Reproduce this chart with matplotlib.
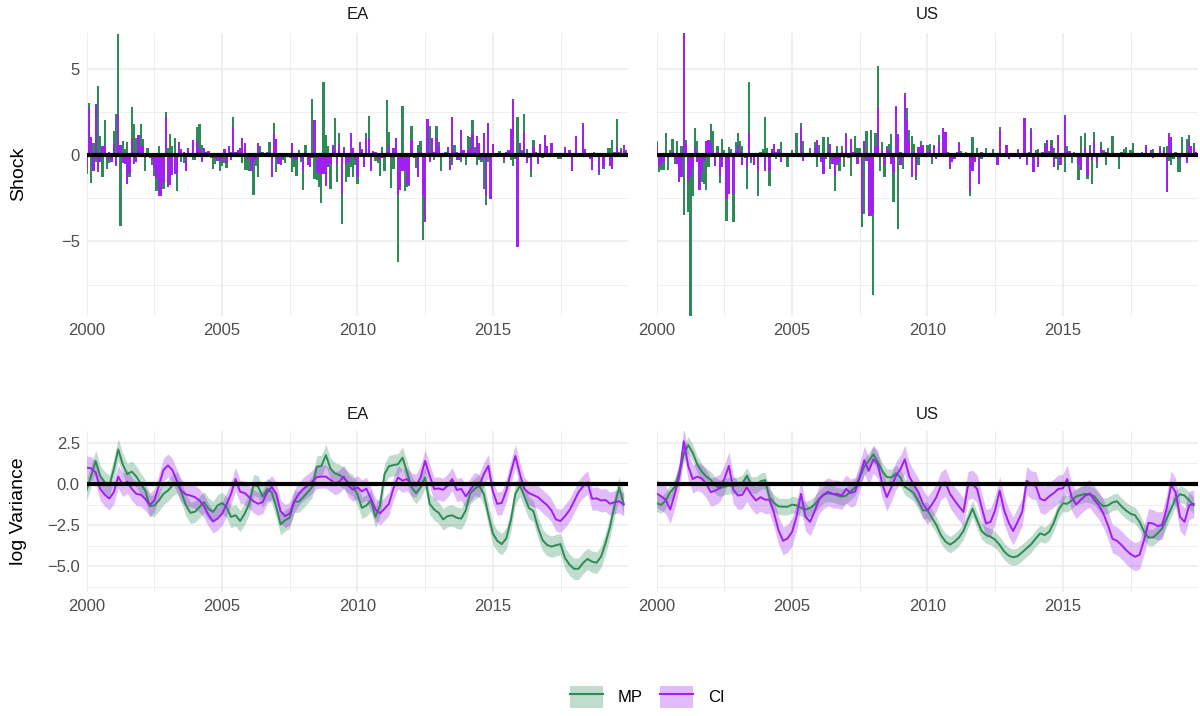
import matplotlib
matplotlib.use("Agg")
import matplotlib.pyplot as plt
from matplotlib.patches import Patch
from matplotlib.lines import Line2D
from matplotlib.legend_handler import HandlerTuple
import numpy as np
import pandas as pd

plt.rcParams['font.family'] = ['Liberation Sans', 'DejaVu Sans']

# monthly shocks 2000-01 .. 2019-12
ea_mp_shock = [
    -1.1, 3.0, -1.6, 0.7, -0.4, 4.0, 1.1, -1.3, 2.0, -0.8, -0.45, -0.3,
    1.4, 2.4, 7.0, -4.1, 0.8, 0.35, 0.75, -1.3, 2.8, 1.8, 1.0, 0.5,
    1.8, 0.9, -0.9, 0.4, -0.2, -0.55, -1.2, -2.1, 0.5, -2.3, -1.95, 2.5,
    0.4, 1.2, 0.5, 1.0, -2.1, 0.7, -0.4, -0.45, -0.3, 0.1, 0.1, -0.3,
    -0.3, 1.6, 1.8, 0.6, 0.2, 0.05, -0.1, -0.2, -0.8, -0.5, -0.1, -0.9,
    -0.65, -0.45, -0.75, 0.1, 0.2, 2.2, 0.1, 0.2, 0.1, -0.45, -0.85, -0.85,
    -0.9, -0.5, -2.3, -0.65, -1.25, 0.5, 0.2, 0.1, 0.2, 0.75, -0.4, 1.85,
    -1.0, -0.4, 0.1, -0.3, -0.45, -0.1, -0.2, -1.0, -0.7, -1.2, 0.3, -0.4,
    -2.0, 0.6, -0.3, -0.3, 3.25, -1.4, -1.45, -1.85, -2.8, 4.25, 1.15, 0.5,
    -1.95, 0.55, 2.15, -1.55, 1.25, -4.0, 0.45, -1.55, -1.25, -0.7, -1.3, -0.6,
    -1.7, 0.5, 0.35, 0.1, 1.3, 2.25, -0.2, 0.1, -0.35, -0.45, -1.2, 0.45,
    -0.95, 3.2, 1.35, -1.9, -0.8, 0.3, -6.2, -1.0, 2.85, -2.1, -1.85, -1.8,
    1.7, 0.1, -0.75, 0.6, 0.8, -4.9, -3.8, 1.0, 1.7, 0.6, -0.3, 1.65,
    0.75, -0.95, 0.1, 0.2, 0.2, -0.3, -0.6, 0.6, 0.2, -0.2, -0.4, 0.2,
    -0.6, 1.1, 1.05, 2.05, 0.45, -0.6, -0.3, -0.4, -1.95, -2.9, -0.4, -0.3,
    0.1, 0.1, -0.1, 0.25, 0.1, -0.45, 0.1, 0.1, -0.3, -0.65, -0.25, 2.2,
    0.3, 0.3, 2.4, 0.35, -0.2, -1.3, 0.85, 0.1, -0.2, 0.1, -0.2, 0.2,
    -0.1, 0.1, 0.1, -0.1, 0.1, -0.25, -0.25, 0.1, 0.1, -0.1, 0.1, -0.2,
    0.1, 0.1, -0.1, 0.1, 0.1, 0.1, -0.1, -0.1, -0.3, 0.15, 0.1, -1.15,
    -0.1, -0.8, 0.1, 0.4, 0.4, 0.85, 0.2, 2.1, 0.2, 0.4, 0.2, 0.3,
]
ea_ci_shock = [
    -0.8, 2.7, 1.05, -0.9, 2.95, -1.0, -0.4, 0.5, 0.6, -0.3, 0.2, -0.4,
    0.7, -0.65, 2.4, 0.6, -0.45, -0.5, -1.65, -1.05, 0.9, -0.5, -0.4, 1.15,
    0.5, 0.5, -0.2, 0.1, -0.1, -0.3, -0.8, -1.35, -2.4, -2.4, -1.6, 2.2,
    -1.85, -1.75, -1.15, -1.1, -1.1, 0.75, 0.35, 0.15, -0.9, 0.4, 0.05, 0.85,
    -0.1, 0.8, 0.4, -0.4, 0.4, 0.15, 0.25, -0.1, -0.2, -0.2, -0.35, -0.3,
    -0.4, 0.35, -0.45, 0.5, -0.3, 1.6, 0.15, 0.3, 0.4, 1.0, 0.7, -0.3,
    -0.2, -0.9, -0.4, -0.3, 0.7, 0.2, -0.1, 0.1, 0.1, 0.2, -1.25, 1.25,
    0.9, -0.5, -0.55, -0.1, -0.1, 0.05, -0.1, 0.7, -0.3, -0.3, 0.1, -0.2,
    -0.9, 0.1, -0.6, -0.7, -0.2, 2.0, -1.0, -1.1, -1.1, -1.1, -1.8, -0.7,
    -0.5, 0.6, 0.3, -0.5, 0.65, -2.25, 0.4, -0.5, -0.4, 1.25, 0.4, -0.3,
    -1.25, 0.75, 0.3, -0.7, 1.0, 1.0, -0.9, 0.25, 0.15, -0.3, -0.3, -0.2,
    0.1, 0.2, 0.6, -0.2, 0.4, 1.0, -2.3, -2.0, -0.9, -0.9, -1.75, -1.75,
    0.85, -0.2, -0.1, -1.3, 0.2, -2.4, -3.9, 2.1, -0.4, 1.0, 0.15, 1.0,
    0.5, 0.1, -0.1, -0.1, 0.45, -0.85, 2.2, 0.2, -0.3, -0.3, 1.45, 0.3,
    -0.2, 0.3, 0.4, 1.25, 0.2, 1.1, 0.7, -0.3, 1.3, -2.4, 1.85, -2.55,
    0.65, 0.1, 0.1, 0.1, -0.1, -0.3, 0.2, 0.3, 1.5, 3.25, -0.2, -5.3,
    0.7, 0.1, 1.35, -0.45, -0.1, -0.85, 0.45, 0.15, -0.5, 0.65, -0.1, 1.15,
    0.5, 0.1, 0.7, 0.1, 0.05, -0.1, -0.1, 0.05, 0.45, 0.1, 0.3, -0.9,
    0.1, 1.1, 0.1, -0.1, 1.85, 0.35, 0.1, -0.25, -0.85, 0.05, -0.1, -1.05,
    -0.1, -0.7, -0.1, -0.1, -0.65, -0.8, 0.1, 0.45, 0.1, 0.3, 0.6, 0.2,
]
us_mp_shock = [
    0.8, -1.0, -0.85, -0.85, 1.25, -0.85, 0.3, 0.95, -0.5, 0.8, -1.25, 0.5,
    -3.5, 0.85, -3.3, -9.4, -2.4, 1.55, 0.8, -0.6, -1.55, -1.65, -2.0, -0.7,
    1.8, 1.4, -0.2, 0.5, -1.6, 0.95, 0.3, -3.8, 0.45, 0.35, -3.85, 0.75,
    1.25, 0.8, 0.5, -0.2, -1.95, 4.2, -0.45, 0.1, 0.1, -2.35, 0.15, 0.35,
    2.2, 0.4, -1.8, 0.2, 0.1, -0.25, 0.1, 0.75, 0.1, -0.1, -0.7, 0.1,
    0.3, -0.1, 1.25, 0.1, 1.85, 0.8, 0.1, -0.1, 0.4, 0.1, 0.75, -0.7,
    0.6, -0.2, 1.05, -0.25, 1.05, -0.8, -0.3, -2.1, 0.5, -0.9, 0.5, -0.7,
    1.3, 0.1, -1.2, 0.1, 1.1, 0.4, 0.4, -4.15, -3.4, 1.4, -3.1, 1.45,
    -8.1, 1.25, 5.15, -0.95, 0.75, -1.25, 0.5, 0.65, 1.2, -2.7, 1.4, -4.3,
    0.2, -0.8, 0.5, 2.7, 1.45, 1.1, 0.65, -1.45, -0.6, 0.8, 0.2, 0.1,
    0.6, 0.65, -0.5, 0.6, 0.1, 1.15, 0.1, 0.2, 0.1, 0.15, -0.1, -0.1,
    0.1, 0.2, 0.75, 0.25, 0.1, 0.2, -0.1, -2.4, 1.05, -0.1, 0.4, -0.2,
    -0.25, 0.1, 0.4, 0.1, 0.1, 0.35, 0.1, -0.2, 1.6, 0.1, -0.1, 0.2,
    0.1, 0.1, -0.1, 0.1, 0.35, -0.1, 0.1, 0.1, -0.1, 0.15, 1.55, -0.1,
    0.3, 0.35, 0.1, 0.15, 0.7, 0.6, 0.25, 0.85, 0.4, -0.25, -0.85, -0.1,
    0.1, -1.0, 0.5, 0.1, -0.45, 0.2, 0.1, -1.45, 1.1, 0.1, 1.3, -1.4,
    0.6, -1.65, 1.35, -0.75, 0.1, 0.75, 0.3, -0.55, 0.4, 0.1, 1.1, 0.1,
    -0.1, -0.8, 0.15, 0.35, 0.45, 0.1, 0.3, 0.7, 0.1, -0.1, 0.1, 0.15,
    0.1, 0.1, -0.1, 0.3, 0.35, 0.1, -0.1, 0.5, 0.1, 0.45, 0.5, -0.35,
    -0.6, -0.25, 0.2, -1.0, -1.0, 1.05, 0.1, 0.95, 1.15, 0.1, 0.7, 0.2,
]
us_ci_shock = [
    0.5, -0.7, -0.6, -0.4, 0.1, -0.2, 0.1, 0.2, -0.3, -0.5, -1.55, -1.25,
    7.3, 0.65, -1.55, -1.25, -0.7, 0.45, -0.4, -2.05, -1.05, -0.4, 0.8, 0.85,
    0.7, 0.25, -0.65, 0.2, -1.2, -0.7, -0.1, -2.55, -2.25, 0.2, -2.25, 0.3,
    0.6, 0.3, -0.6, -0.1, -0.7, 1.25, -0.3, -0.6, 0.05, -0.95, 0.05, 0.1,
    -0.95, 0.1, -0.95, 0.35, 0.65, 0.2, 0.35, -0.4, 0.05, 0.05, -0.1, 0.05,
    0.1, 0.05, 0.1, -0.1, 1.6, -0.35, 0.05, 0.05, 0.1, 0.05, 0.45, 0.85,
    0.1, -0.4, -1.1, 0.1, 0.2, 0.65, -0.5, -1.2, -0.6, -0.4, 0.2, -0.2,
    1.15, -0.2, 0.95, 0.2, 0.2, -0.5, 0.1, -3.4, 0.8, -0.35, -3.55, -3.55,
    -3.4, 0.5, 2.75, -0.2, 0.3, -0.6, 0.4, 0.3, -0.5, -1.05, 2.85, 1.2,
    -0.55, -0.2, 3.6, 2.05, 0.8, -1.3, 0.2, -1.2, 0.45, 0.6, 0.6, 0.1,
    0.2, 0.35, -0.1, 0.5, -0.25, 0.8, 0.1, 1.55, 1.35, 0.1, -0.8, -0.4,
    -0.25, 0.1, 0.7, 0.1, 0.05, 0.1, -0.1, -2.1, -0.95, -0.4, 0.1, -1.65,
    0.2, 0.1, 0.1, 0.05, 0.05, 0.1, 0.05, -0.55, 1.45, 0.1, 0.05, 0.6,
    -0.25, 0.05, 0.05, 0.1, 0.3, -0.25, 0.1, 2.15, -0.55, 0.1, 1.45, -1.0,
    0.1, -0.7, 0.05, 0.1, 0.5, 0.85, 0.1, 0.6, -0.7, 0.1, 1.15, -0.6,
    0.1, 2.3, 0.2, 0.25, -0.1, 0.1, 0.05, -0.6, -0.85, 0.1, 0.45, -1.2,
    0.3, -0.3, 0.8, -0.4, 0.05, 0.45, 0.1, 0.15, 0.1, 0.05, 0.1, 0.05,
    0.05, -0.1, 0.05, 0.1, 0.1, 0.05, 0.1, 0.1, 0.05, 0.05, 0.05, 0.1,
    0.05, 0.6, 0.05, 0.3, -0.2, 0.1, 0.05, 0.4, 0.1, 0.3, -2.15, 1.3,
    1.05, 0.1, 0.1, -0.2, -0.15, 0.1, 0.05, -0.45, 0.8, 0.5, 0.45, 0.2,
]

# log variance, every second month 2000-01 .. 2019-11
ea_mp_lv = [
    -0.35, 0.5, 1.4, 0.5, 0.1, -0.1, 0.9, 2.1, 1.2, 0.6, 0.75, 0.45,
    0.0, -0.4, -1.35, -1.3, -1.0, -0.6, -0.4, -0.1, 0.1, -0.5, -1.3, -1.75,
    -1.68, -1.4, -1.1, -1.5, -1.7, -1.3, -1.15, -1.4, -2.0, -1.9, -2.25, -1.8,
    -1.2, -0.06, -0.15, -0.77, -0.3, -0.5, -1.4, -2.45, -2.2, -2.05, -1.07, -1.07,
    -0.8, -0.5, -0.16, 1.05, 1.1, 1.75, 0.95, 0.65, 0.55, 0.35, 0.1, -0.1,
    -0.65, -1.45, -1.3, -1.0, -2.0, -1.3, 0.6, 1.08, 1.15, 1.2, 1.6, 0.7,
    -0.2, -0.55, -0.2, 0.4, -1.2, -1.55, -1.75, -2.15, -1.95, -1.9, -2.05, -2.1,
    -1.6, -0.57, -0.3, -0.1, -0.6, -1.85, -3.0, -3.45, -3.65, -3.3, -2.2, -0.6,
    -0.1, -0.75, -1.45, -1.65, -2.65, -3.4, -3.7, -3.8, -3.72, -3.65, -4.5, -4.9,
    -5.15, -5.15, -4.8, -4.55, -4.72, -4.78, -4.4, -3.6, -2.6, -1.3, -0.2, -1.2,
]
ea_ci_lv = [
    1.0, 0.95, 0.7, -0.3, -0.65, -0.88, -0.5, 0.45, -0.06, 0.15, -0.3, -0.6,
    -0.65, -0.9, -1.27, -1.0, -0.1, 0.85, 1.13, 0.85, 0.2, -0.4, -0.63, -0.7,
    -0.8, -1.0, -1.35, -1.88, -2.27, -2.1, -1.8, -1.25, -0.6, 0.3, -0.47, -0.55,
    -0.8, -1.05, -1.2, -1.1, -0.5, -0.18, -0.6, -1.65, -1.95, -1.8, -1.05, -0.6,
    -0.3, -0.1, 0.15, 0.42, 0.45, 0.45, 0.25, 0.05, 0.15, 0.45, -0.1, -0.35,
    -0.2, -0.45, -0.28, -0.9, -1.55, -1.78, -1.5, -1.2, -0.26, 0.4, 0.2, 0.3,
    -0.05, -0.1, 0.4, 1.4, 0.5, -0.3, -0.27, -0.35, -0.1, 0.3, -0.36, -0.3,
    -0.75, -0.36, 0.0, -0.1, 0.6, 1.1, -0.45, -1.2, -1.15, -0.4, 0.7, 1.7,
    0.6, -0.3, -0.55, -0.67, -0.8, -1.05, -1.28, -1.6, -2.15, -2.25, -1.95, -1.58,
    -1.05, -0.5, -0.15, 0.1, -0.9, -0.87, -1.0, -0.97, -1.2, -1.1, -1.05, -1.25,
]
us_mp_lv = [
    -1.17, -1.27, -1.0, -0.5, -0.17, 0.7, 1.85, 2.37, 1.9, 1.2, 0.75, 0.45,
    0.25, -0.08, -0.26, -0.16, -0.1, -0.1, -0.08, 0.05, 0.5, -0.06, -0.06, 0.16,
    0.24, -0.8, -1.15, -1.35, -1.38, -1.38, -1.25, -1.3, -1.45, -1.55, -1.45, -1.25,
    -0.9, -0.65, -0.57, -0.6, -0.7, -0.77, -0.7, -0.45, -0.2, 0.4, 1.05, 1.4,
    1.8, 1.35, 0.8, 0.42, 0.4, 0.65, 0.4, -0.16, -0.35, -0.55, -1.05, -1.6,
    -1.6, -2.05, -2.49, -3.1, -3.5, -3.68, -3.5, -3.25, -2.85, -2.15, -1.5, -2.2,
    -2.85, -3.1, -3.2, -3.38, -3.7, -4.1, -4.35, -4.45, -4.38, -4.15, -3.9, -3.65,
    -3.3, -3.0, -3.1, -2.9, -2.35, -1.6, -1.17, -1.2, -1.0, -0.75, -0.67, -0.6,
    -0.65, -0.75, -1.1, -1.35, -1.3, -1.12, -1.05, -1.35, -1.6, -1.8, -1.9, -2.3,
    -2.9, -3.25, -3.25, -3.0, -2.7, -2.1, -1.5, -0.9, -0.62, -0.7, -1.0, -1.3,
]
us_ci_lv = [
    -0.57, -0.75, -0.95, -1.55, -0.6, 0.5, 2.6, 1.1, 0.3, 0.45, 0.33, 0.0,
    -0.5, -0.4, -0.25, 0.3, 1.1, -0.35, -0.7, -0.65, -0.2, -0.65, -1.0, -0.8,
    -0.95, -0.95, -1.75, -2.8, -3.45, -3.3, -2.9, -1.98, -0.6, -2.0, -2.3, -1.65,
    -0.93, -0.65, -0.47, -0.6, -0.6, -0.7, -0.3, -0.55, -0.45, 0.4, 1.45, 0.8,
    1.5, 1.2, 0.0, -0.8, -0.2, 0.5, 0.9, 1.5, 0.45, -0.05, -0.5, -1.2,
    -1.6, -1.25, -0.8, -0.1, 0.1, -0.6, -1.0, -1.35, -1.7, -0.1, 0.0, -0.3,
    -1.4, -2.4, -2.3, -1.6, -0.4, -1.6, -2.35, -2.85, -2.3, -1.7, 0.2, -0.05,
    -0.1, -0.9, -1.0, -0.75, -0.55, -0.3, -0.26, 0.3, -0.8, -1.25, -0.95, -0.7,
    -0.57, -0.97, -1.3, -1.8, -2.5, -3.33, -3.45, -3.7, -4.0, -4.25, -4.42, -4.3,
    -3.4, -2.35, -2.4, -2.55, -2.5, -1.5, -0.05, -0.5, -2.0, -2.3, -1.3, -1.2,
]
# half widths of the credible bands
ea_mp_band = 0.65
ea_ci_band = 0.7
us_mp_band = 0.5
us_ci_band = 0.85

regions = ["EA", "US"]
series = ["MP", "CI"]

months = pd.date_range("2000-01-01", periods=240, freq="MS")
months2 = pd.date_range("2000-01-01", periods=120, freq="2MS")

green = "#2E8B57"
purple = "#A020F0"
grid_col = "#EBEBEB"
tick_col = "#4D4D4D"

shocks = {"EA": (ea_mp_shock, ea_ci_shock), "US": (us_mp_shock, us_ci_shock)}
lvs = {"EA": (ea_mp_lv, ea_ci_lv), "US": (us_mp_lv, us_ci_lv)}
bands = {"EA": (ea_mp_band, ea_ci_band), "US": (us_mp_band, us_ci_band)}

fig = plt.figure(figsize=(12, 7.16), dpi=100)
W, H = 1200, 716
lefts = [86.7, 656.7]
width = 541.5


def style(ax, xmin, xmax):
    ax.set_xlim(xmin, xmax)
    for s in ax.spines.values():
        s.set_visible(False)
    ax.set_xticks(pd.to_datetime(["2000-01-01", "2005-01-01", "2010-01-01", "2015-01-01"]))
    ax.set_xticklabels(["2000", "2005", "2010", "2015"])
    ax.set_xticks(pd.to_datetime(["2002-07-02", "2007-07-02", "2012-07-02", "2017-07-02"]), minor=True)
    ax.grid(which="major", color=grid_col, lw=1.1)
    ax.grid(which="minor", color=grid_col, lw=0.55)
    ax.set_axisbelow(True)
    ax.tick_params(which="both", length=0, labelsize=12, colors=tick_col, pad=5)


xmin = pd.Timestamp("2000-01-01")
xmax = pd.Timestamp("2020-01-01")

for i, reg in enumerate(regions):
    # shocks
    ax = fig.add_axes([lefts[i] / W, (H - 316) / H, width / W, 283.3 / H])
    mp, ci = shocks[reg]
    ax.bar(months, mp, width=30, color=green, linewidth=0)
    ax.bar(months, ci, width=30, color=purple, linewidth=0)
    ax.axhline(0, color="black", lw=3)
    ax.set_ylim(-9.32, 7.08)
    ax.set_yticks([-5, 0, 5])
    ax.set_yticks([-7.5, -2.5, 2.5], minor=True)
    style(ax, xmin, xmax)
    if i == 1:
        ax.set_yticklabels([])
    ax.text(0.5, 1 + 18 / 283.3, reg, transform=ax.transAxes, ha="center", va="center",
            fontsize=12, color="#1A1A1A")

    # log variance
    ax2 = fig.add_axes([lefts[i] / W, (H - 591.7) / H, width / W, 160.7 / H])
    mpl_, cil_ = lvs[reg]
    mpb, cib = bands[reg]
    mpl_ = np.array(mpl_)
    cil_ = np.array(cil_)
    ax2.fill_between(months2, mpl_ - mpb, mpl_ + mpb, color=green, alpha=0.3, lw=0)
    ax2.fill_between(months2, cil_ - cib, cil_ + cib, color=purple, alpha=0.3, lw=0)
    ax2.plot(months2, mpl_, color=green, lw=1.4)
    ax2.plot(months2, cil_, color=purple, lw=1.4)
    ax2.axhline(0, color="black", lw=3)
    ax2.set_ylim(-6.54, 3.22)
    ax2.set_yticks([-5, -2.5, 0, 2.5])
    ax2.set_yticks([-6.25, -3.75, -1.25, 1.25], minor=True)
    style(ax2, xmin, xmax)
    if i == 0:
        ax2.set_yticklabels(["\u22125.0", "\u22122.5", "0.0", "2.5"])
    else:
        ax2.set_yticklabels([])
    ax2.text(0.5, 1 + 17 / 160.7, reg, transform=ax2.transAxes, ha="center", va="center",
             fontsize=12, color="#1A1A1A")

fig.text(19 / W, 1 - 174 / H, "Shock", rotation=90, ha="center", va="center", fontsize=14)
fig.text(19 / W, 1 - 511 / H, "log Variance", rotation=90, ha="center", va="center", fontsize=14)

handles = [
    (Patch(facecolor=green, alpha=0.3, lw=0), Line2D([], [], color=green, lw=1.5)),
    (Patch(facecolor=purple, alpha=0.3, lw=0), Line2D([], [], color=purple, lw=1.5)),
]
fig.legend(handles, series, handler_map={tuple: HandlerTuple(ndivide=1)},
           loc="center", bbox_to_anchor=(647 / W, 1 - 697 / H), ncol=2, frameon=False,
           fontsize=12, handlelength=2.0, handleheight=1.7, columnspacing=1.0, handletextpad=0.9)

fig.savefig("out.png", dpi=100)
